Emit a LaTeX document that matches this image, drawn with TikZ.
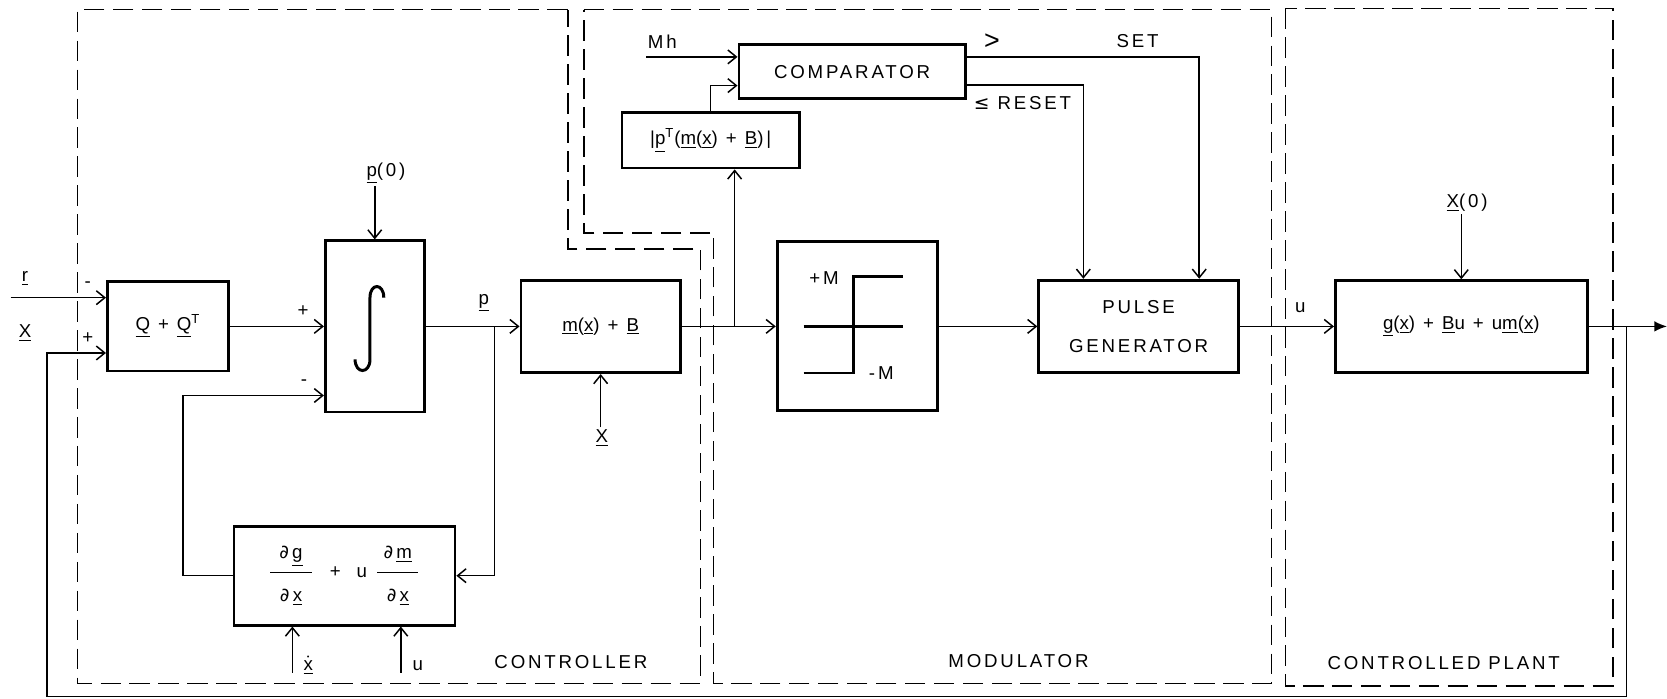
\documentclass[tikz,border=0pt]{standalone}
\usepackage{amsmath}
\usepackage{fontspec}
\setmainfont{Liberation Sans}[LetterSpace=15]
\newfontfamily\symfont{DejaVu Sans}
\usetikzlibrary{arrows.meta,calc}
\newcommand{\vc}[1]{\underline{#1}}
\newcommand{\pd}{{\symfont ∂}}
\newcommand{\pfrac}[2]{$\genfrac{}{}{0.7pt}{0}%
  {\makebox[22pt]{\text{#1}}\rule[-5pt]{0pt}{5pt}}{\rule{0pt}{13pt}\text{#2}}$}
\tikzset{
  blk/.style={draw,line width=1.5pt,inner sep=0pt,align=center},
  lbl/.style={inner sep=1pt,align=center},
  sigarr/.style={-{Straight Barb[length=1.6mm,width=2.6mm]},line width=0.8pt},
  outarr/.style={-{Latex[length=2.4mm,width=2mm]},line width=0.8pt},
  zone/.style={line width=0.9pt,dash pattern=on 11pt off 4.5pt},
  curve/.style={line width=1.3pt}
}

\begin{document}
\begin{tikzpicture}[x=0.02cm,y=-0.02cm,font=\fontsize{10}{12}\selectfont]
    \path[use as bounding box] (0,0) rectangle (1568,657);

    % dashed boundaries
    \draw[zone] (534,9) -- (73,9) -- (73,643) -- (659,643) -- (659,234)
      -- (534,234) -- cycle;
    \draw[zone] (549,9) -- (1196,9) -- (1196,643) -- (671,643) -- (671,219)
      -- (549,219) -- cycle;
    \draw[zone] (1209,8) rectangle (1517,645);
    \node[lbl] (ctrl) at (537,623) {CONTROLLER};
    \node[lbl] (modl) at (958,622) {MODULATOR};
    \node[lbl] (cplant) at (1358,624) {CONTROLLED PLANT};

    % blocks
    \node[blk,minimum width=2.28cm,minimum height=1.68cm] (qsum) at (158,307)
      {\vc{Q} + \vc{Q}\textsuperscript{T}};
    \node[blk,minimum width=1.86cm,minimum height=3.22cm] (integ) at (352.5,307) {};
    \node[blk,minimum width=4.16cm,minimum height=1.86cm] (dfdx) at (324,541.5)
      {\pfrac{\pd\,\vc{g}}{\pd\,\vc{x}}\ \ + \ u\ \pfrac{\pd\,\vc{m}}{\pd\,\vc{x}}};
    \node[blk,minimum width=3.0cm,minimum height=1.74cm] (mfun) at (565,307)
      {\vc{m}(\vc{x}) + \vc{B}};
    \node[blk,minimum width=3.34cm,minimum height=1.04cm] (absval) at (668.5,132)
      {|\vc{p}\textsuperscript{T}(\vc{m}(\vc{x}) + \vc{B})|};
    \node[blk,minimum width=4.26cm,minimum height=1.02cm] (comp) at (801.5,67.5)
      {COMPARATOR};
    \node[blk,minimum width=3.02cm,minimum height=3.18cm] (relay) at (806.5,307) {};
    \node[blk,minimum width=3.76cm,minimum height=1.74cm] (pulse) at (1071,307)
      {PULSE\\[9pt]GENERATOR};
    \node[blk,minimum width=4.74cm,minimum height=1.72cm] (plant) at (1374.5,307)
      {\vc{g}(\vc{x}) + \vc{B}u + u\vc{m}(\vc{x})};

    % integral sign and relay curve
    \draw[curve,line width=1.6pt] (361,280) .. controls (361,266) and (348,266) .. (348,280)
      -- (348,338) .. controls (348,352) and (334,352) .. (334,338);
    \draw[curve] (756,307) -- (849,307);
    \draw[curve] (756,351) -- (803,351) -- (803,260) -- (849,260);
    \node[lbl] (pm) at (775,262) {+M};
    \node[lbl] (mm) at (829,351) {-\,M};

    % labels
    \node[lbl] (rlbl) at (23.5,262) {\vc{r}};
    \node[lbl] (xlbl) at (23.5,313) {\vc{X}};
    \node[lbl] (rsign) at (82.5,268) {-};
    \node[lbl] (xsign) at (82.5,318) {+};
    \node[lbl] (plus1) at (285,293) {+};
    \node[lbl] (minus1) at (286,360) {-};
    \node[lbl] (plbl) at (455,285) {\vc{p}};
    \node[lbl] (p0) at (363,163) {\vc{p}(0)};
    \node[lbl] (xdlbl) at (290,626) {\vc{$\dot{\text{x}}$}};
    \node[lbl] (ulbl) at (393,626) {u};
    \node[lbl] (xmlbl) at (566,412) {\vc{X}};
    \node[lbl] (mh) at (623,39) {Mh};
    \node[lbl] (gt) at (933,39) {\Large >};
    \node[lbl] (setl) at (1070,39) {SET};
    \node[lbl,anchor=west] (resetl) at (914,97) {{\symfont ≤}\ RESET};
    \node[lbl] (ulbl2) at (1223,289) {u};
    \node[lbl] (x0) at (1380,191) {\vc{X}(0)};

    % connectors
    \coordinate (rin) at (10,280);
    \coordinate (xin) at (44,332);
    \coordinate (fbot) at (44,655);
    \coordinate (fbtap) at (1530,307);
    \coordinate (yout) at (1568,307);
    \coordinate (ptap) at (465,307);
    \coordinate (ifb) at (172,372);
    \coordinate (xdin) at (275,633);
    \coordinate (uin) at (377,633);
    \coordinate (mtap) at (691,307);
    \coordinate (mhin) at (608,53.5);

    \draw[sigarr] (rin) -- (rin -| qsum.west);
    \draw[sigarr] (fbtap) |- (fbot) -- (xin) -- (xin -| qsum.west);
    \draw[sigarr] (qsum.east) -- (integ.west);
    \draw[sigarr] (integ.east) -- (mfun.west);
    \draw[sigarr] (ptap) |- (dfdx.east);
    \draw[sigarr] (dfdx.west) -| (ifb) -- (ifb -| integ.west);
    \draw[sigarr] (p0.south -| integ.north) -- (integ.north);
    \draw[sigarr] (xdin) -- (xdin |- dfdx.south);
    \draw[sigarr] (uin) -- (uin |- dfdx.south);
    \draw[sigarr] (xmlbl.north -| mfun.south) -- (mfun.south);
    \draw[sigarr] (mfun.east) -- (relay.west);
    \draw[sigarr] (mtap) -- (mtap |- absval.south);
    \draw[sigarr] (absval.north) |- ($(comp.west)+(0,13)$);
    \draw[sigarr] (mhin) -- (mhin -| comp.west);
    \draw[sigarr] ($(comp.east)+(0,-14)$) -| ($(pulse.north)+(57,0)$);
    \draw[sigarr] ($(comp.east)+(0,12.5)$) -| ($(pulse.north)+(-52,0)$);
    \draw[sigarr] (relay.east) -- (pulse.west);
    \draw[sigarr] (pulse.east) -- (plant.west);
    \draw[sigarr] (x0.south -| plant.north) -- (plant.north);
    \draw[outarr] (plant.east) -- (yout);
  \end{tikzpicture}
\end{document}
